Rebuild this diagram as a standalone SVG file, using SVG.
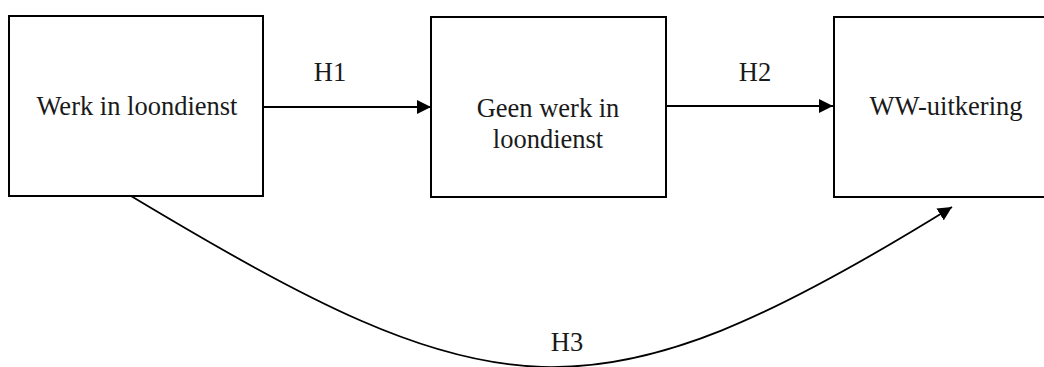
<svg xmlns="http://www.w3.org/2000/svg" width="1044" height="367" viewBox="0 0 1044 367">
<style>
.box{fill:#fff;stroke:#000;stroke-width:2}
.lbl{font-family:"Liberation Serif","Times New Roman",serif;font-size:26.5px;fill:#1a1a1a;text-anchor:middle}
.con{fill:none;stroke:#000;stroke-width:1.8}
</style>
<defs>
<marker id="arr" viewBox="0 0 14 14" refX="14" refY="7" markerWidth="14" markerHeight="14" markerUnits="userSpaceOnUse" orient="auto">
<path d="M0,0 L14,7 L0,14 Z" fill="#000"/>
</marker>
</defs>
<rect width="1044" height="367" fill="#fff"/>
<g id="n1">
<rect class="box" x="9" y="16" width="254" height="180"/>
<text class="lbl" x="137" y="115">Werk in loondienst</text>
</g>
<g id="n2">
<rect class="box" x="431" y="17" width="235" height="180"/>
<text class="lbl" x="548" y="117">Geen werk in</text>
<text class="lbl" x="548" y="148">loondienst</text>
</g>
<g id="n3">
<rect class="box" x="834" y="17" width="220" height="180"/>
<text class="lbl" x="946" y="115">WW-uitkering</text>
</g>
<g id="connectors">
<path class="con" d="M263,107 L431,107" marker-end="url(#arr)"/>
<path class="con" d="M666,106 L833,106" marker-end="url(#arr)"/>
<path class="con" d="M131,196 C493,413 590,431 952,207" marker-end="url(#arr)"/>
<text class="lbl" x="330" y="81">H1</text>
<text class="lbl" x="755" y="81">H2</text>
<text class="lbl" x="567" y="351">H3</text>
</g>
</svg>
